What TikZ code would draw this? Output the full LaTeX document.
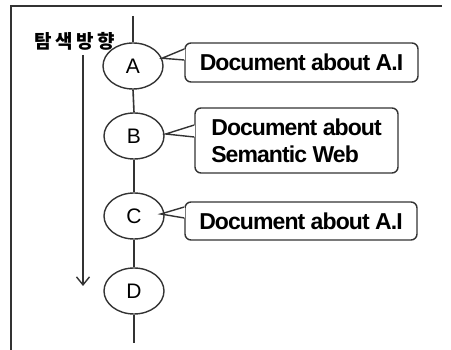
\documentclass[tikz,border=0pt]{standalone}
\usepackage{fontspec}
\setmainfont{Liberation Sans}
\newfontfamily\krfont{Noto Sans CJK KR}
\usetikzlibrary{shapes.geometric,arrows.meta}
\definecolor{ink}{HTML}{333333}
\tikzset{
  ellnode/.style={ellipse, draw=ink, line width=1.4pt, minimum width=60pt,
    minimum height=46pt, inner sep=0pt, font=\fontsize{21}{23}\selectfont},
  docbox/.style={rectangle, rounded corners=6pt, draw=ink, line width=1.4pt,
    fill=white, inner sep=0pt, align=left,
    font=\fontsize{23}{27}\selectfont\bfseries\addfontfeatures{LetterSpace=-4}},
  chain/.style={draw=ink, line width=1.6pt},
  tail/.style={draw=ink, line width=1.4pt, line join=miter},
  frameline/.style={draw=ink, line width=2pt}
}
\begin{document}
\begin{tikzpicture}[x=1pt,y=-1pt]
\useasboundingbox (0,0) rectangle (451,350);
% frame on the top and left sides
\draw[frameline] (11,350) -- (11,6) -- (442,6);

% search sequence of documents
\node[ellnode] (A) at (133,66) {A};
\node[ellnode] (B) at (134,136) {B};
\node[ellnode] (C) at (134,216) {C};
\node[ellnode] (D) at (134,291) {D};
\coordinate (top) at (133,16);
\coordinate (bot) at (134,343);
\draw[chain] (top) -- (A.north);
\draw[chain] (A.south) -- (B.north);
\draw[chain] (B.south) -- (C.north);
\draw[chain] (C.south) -- (D.north);
\draw[chain] (D.south) -- (bot);

% search direction
\node[font=\krfont\bfseries\fontsize{19}{21}\selectfont\addfontfeatures{LetterSpace=18}] (dir) at (75,41) {탐색방향};
\coordinate (arrS) at (83,55);
\coordinate (arrE) at (83,286);
\draw[draw=ink, line width=1.4pt, -{Straight Barb[length=8pt,width=13pt]}] (arrS) -- (arrE);

% document callouts
\node[docbox, minimum width=233pt, minimum height=39pt] (b1) at (301.5,62.5) {Document about A.I};
\node[docbox, minimum width=203pt, minimum height=65pt] (b2) at (296.5,140.5) {Document about\\Semantic Web};
\node[docbox, minimum width=232pt, minimum height=38pt] (b3) at (301,221) {Document about A.I};

% callout tails: upper edge slanted, lower edge level with the tip
\fill[white] ([yshift=13.5pt,xshift=-1pt]b1.west) rectangle ([yshift=2.5pt,xshift=1pt]b1.west);
\draw[tail] ([yshift=13.5pt]b1.west) -- (A.15) -- ([yshift=2.5pt]b1.west);
\fill[white] ([yshift=15.5pt,xshift=-1pt]b2.west) rectangle ([yshift=3.5pt,xshift=1pt]b2.west);
\draw[tail] ([yshift=15.5pt]b2.west) -- ([xshift=1pt,yshift=2pt]B.east) -- ([yshift=3.5pt]b2.west);
\fill[white] ([yshift=14pt,xshift=-1pt]b3.west) rectangle ([yshift=3pt,xshift=1pt]b3.west);
\draw[tail] ([yshift=14pt]b3.west) -- ([xshift=-4pt,yshift=2pt]C.east) -- ([yshift=3pt]b3.west);
\end{tikzpicture}
\end{document}
